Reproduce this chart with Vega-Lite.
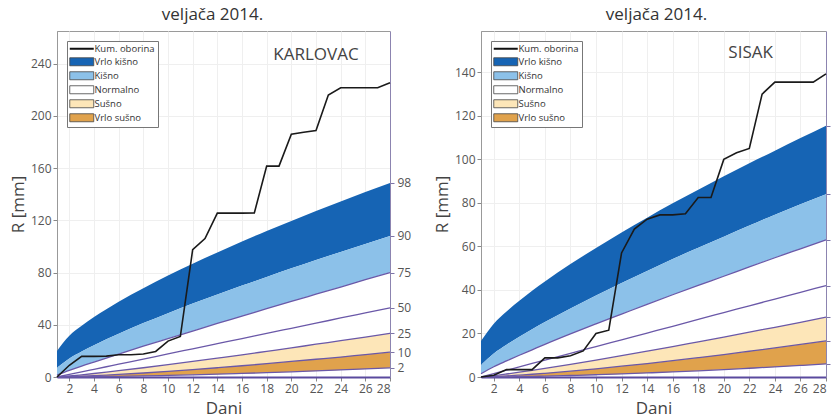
{
  "$schema": "https://vega.github.io/schema/vega-lite/v6.json",
  "background": "white",
  "padding": {"left": 8, "top": 5, "right": 0, "bottom": 0},
  "spacing": 20,
  "datasets": {
    "kperc": [
      {"day": 1, "p2": 0, "p10": 0, "p25": 0, "p50": 0, "p75": 1.5, "p90": 7, "p98": 20},
      {"day": 2, "p2": 0.04, "p10": 0.22, "p25": 0.76, "p50": 1.96, "p75": 5, "p90": 14.2, "p98": 31.6},
      {"day": 3, "p2": 0.11, "p10": 0.57, "p25": 1.68, "p50": 3.93, "p75": 8.3, "p90": 19.6, "p98": 39.2},
      {"day": 4, "p2": 0.21, "p10": 0.98, "p25": 2.67, "p50": 5.89, "p75": 11.4, "p90": 24.4, "p98": 45.9},
      {"day": 5, "p2": 0.33, "p10": 1.45, "p25": 3.72, "p50": 7.85, "p75": 14.5, "p90": 28.9, "p98": 51.9},
      {"day": 6, "p2": 0.47, "p10": 1.96, "p25": 4.81, "p50": 9.81, "p75": 17.6, "p90": 33.2, "p98": 57.6},
      {"day": 8, "p2": 0.81, "p10": 3.07, "p25": 7.08, "p50": 13.7, "p75": 23.6, "p90": 41.3, "p98": 68},
      {"day": 10, "p2": 1.21, "p10": 4.32, "p25": 9.46, "p50": 17.7, "p75": 29.4, "p90": 48.9, "p98": 77.7},
      {"day": 12, "p2": 1.67, "p10": 5.68, "p25": 11.92, "p50": 21.6, "p75": 35.2, "p90": 56.2, "p98": 86.8},
      {"day": 14, "p2": 2.18, "p10": 7.1, "p25": 14.44, "p50": 25.5, "p75": 41, "p90": 63.2, "p98": 95.4},
      {"day": 16, "p2": 2.74, "p10": 8.6, "p25": 17, "p50": 29.4, "p75": 46.6, "p90": 70, "p98": 103.8},
      {"day": 18, "p2": 3.34, "p10": 10.2, "p25": 19.66, "p50": 33.4, "p75": 52.3, "p90": 76.5, "p98": 111.8},
      {"day": 20, "p2": 3.98, "p10": 11.9, "p25": 22.3, "p50": 37.3, "p75": 57.9, "p90": 83.2, "p98": 119.5},
      {"day": 22, "p2": 4.68, "p10": 13.6, "p25": 25.1, "p50": 41.2, "p75": 63.4, "p90": 89.6, "p98": 127.1},
      {"day": 24, "p2": 5.42, "p10": 15.3, "p25": 27.8, "p50": 45.2, "p75": 68.9, "p90": 95.8, "p98": 134.4},
      {"day": 26, "p2": 6.19, "p10": 17.2, "p25": 30.6, "p50": 49.1, "p75": 74.5, "p90": 101.9, "p98": 141.6},
      {"day": 28, "p2": 7, "p10": 19, "p25": 33.5, "p50": 53, "p75": 80, "p90": 108, "p98": 148.6}
    ],
    "sperc": [
      {"day": 1, "p2": 0, "p10": 0, "p25": 0, "p50": 0, "p75": 1.5, "p90": 5.5, "p98": 16.5},
      {"day": 2, "p2": 0.03, "p10": 0.19, "p25": 0.62, "p50": 1.56, "p75": 4.7, "p90": 10.8, "p98": 24.5},
      {"day": 3, "p2": 0.09, "p10": 0.49, "p25": 1.38, "p50": 3.11, "p75": 7.4, "p90": 14.8, "p98": 30.1},
      {"day": 4, "p2": 0.18, "p10": 0.86, "p25": 2.2, "p50": 4.67, "p75": 10, "p90": 18.5, "p98": 35},
      {"day": 5, "p2": 0.28, "p10": 1.26, "p25": 3.06, "p50": 6.22, "p75": 12.5, "p90": 22, "p98": 39.6},
      {"day": 6, "p2": 0.4, "p10": 1.7, "p25": 3.95, "p50": 7.78, "p75": 15, "p90": 25.3, "p98": 43.9},
      {"day": 8, "p2": 0.69, "p10": 2.68, "p25": 5.82, "p50": 10.9, "p75": 19.8, "p90": 31.5, "p98": 51.9},
      {"day": 10, "p2": 1.03, "p10": 3.76, "p25": 7.77, "p50": 14, "p75": 24.4, "p90": 37.5, "p98": 59.3},
      {"day": 12, "p2": 1.43, "p10": 4.95, "p25": 9.79, "p50": 17.1, "p75": 28.9, "p90": 43.2, "p98": 66.4},
      {"day": 14, "p2": 1.87, "p10": 6.19, "p25": 11.86, "p50": 20.2, "p75": 33.4, "p90": 48.7, "p98": 73.2},
      {"day": 16, "p2": 2.35, "p10": 7.51, "p25": 13.97, "p50": 23.3, "p75": 37.8, "p90": 54.2, "p98": 79.8},
      {"day": 18, "p2": 2.86, "p10": 8.89, "p25": 16.15, "p50": 26.5, "p75": 42.1, "p90": 59.4, "p98": 86},
      {"day": 20, "p2": 3.42, "p10": 10.32, "p25": 18.32, "p50": 29.6, "p75": 46.3, "p90": 64.5, "p98": 92.2},
      {"day": 22, "p2": 4.02, "p10": 11.83, "p25": 20.62, "p50": 32.7, "p75": 50.6, "p90": 69.6, "p98": 98.2},
      {"day": 24, "p2": 4.65, "p10": 13.37, "p25": 22.85, "p50": 35.8, "p75": 54.8, "p90": 74.6, "p98": 104},
      {"day": 26, "p2": 5.31, "p10": 14.96, "p25": 25.15, "p50": 38.9, "p75": 58.9, "p90": 79.4, "p98": 109.8},
      {"day": 28, "p2": 6, "p10": 16.6, "p25": 27.5, "p50": 42, "p75": 63, "p90": 84, "p98": 115.5}
    ],
    "kobs": [
      {"day": 1, "r": 0}, {"day": 2, "r": 9}, {"day": 3, "r": 15.8}, {"day": 4, "r": 15.8},
      {"day": 5, "r": 16}, {"day": 6, "r": 17}, {"day": 7, "r": 17}, {"day": 8, "r": 17.6},
      {"day": 9, "r": 19.6}, {"day": 10, "r": 27.5}, {"day": 11, "r": 31}, {"day": 12, "r": 97.5},
      {"day": 13, "r": 106}, {"day": 14, "r": 125.5}, {"day": 15, "r": 125.5}, {"day": 16, "r": 125.5},
      {"day": 17, "r": 125.7}, {"day": 18, "r": 161.5}, {"day": 19, "r": 161.5}, {"day": 20, "r": 186},
      {"day": 21, "r": 187.5}, {"day": 22, "r": 188.7}, {"day": 23, "r": 216}, {"day": 24, "r": 221.5},
      {"day": 25, "r": 221.5}, {"day": 26, "r": 221.5}, {"day": 27, "r": 221.5}, {"day": 28, "r": 225.3}
    ],
    "sobs": [
      {"day": 1, "r": 0}, {"day": 2, "r": 0.8}, {"day": 3, "r": 3.4}, {"day": 4, "r": 3.4},
      {"day": 5, "r": 3.4}, {"day": 6, "r": 8.8}, {"day": 7, "r": 8.8}, {"day": 8, "r": 9.8},
      {"day": 9, "r": 12}, {"day": 10, "r": 20}, {"day": 11, "r": 21.5}, {"day": 12, "r": 57},
      {"day": 13, "r": 68}, {"day": 14, "r": 72.5}, {"day": 15, "r": 74.5}, {"day": 16, "r": 74.5},
      {"day": 17, "r": 75}, {"day": 18, "r": 82.5}, {"day": 19, "r": 82.5}, {"day": 20, "r": 100},
      {"day": 21, "r": 103}, {"day": 22, "r": 105}, {"day": 23, "r": 130}, {"day": 24, "r": 135.5},
      {"day": 25, "r": 135.5}, {"day": 26, "r": 135.5}, {"day": 27, "r": 135.5}, {"day": 28, "r": 139.3}
    ]
  },
  "config": {
    "font": "Open Sans",
    "view": {"stroke": "#9a9a9a", "strokeWidth": 1},
    "axis": {
      "labelFont": "Open Sans", "labelFontSize": 12, "labelColor": "#555",
      "titleFont": "Open Sans", "titleFontSize": 17, "titleFontWeight": "normal", "titleColor": "#444",
      "tickColor": "#888", "domainColor": "#999", "gridColor": "#efefef", "tickSize": 4, "labelPadding": 2
    },
    "title": {"font": "Open Sans", "fontSize": 17, "fontWeight": "normal", "color": "#333"}
  },
  "resolve": {
    "scale": {"color": "independent", "x": "independent", "y": "independent"},
    "legend": {"color": "independent"}
  },
  "hconcat": [
    {
      "width": 333,
      "height": 346,
      "title": {"text": "veljača 2014.", "dx": -11, "offset": 7},
      "resolve": {"axis": {"y": "independent"}},
      "encoding": {
        "x": {
          "field": "day", "type": "quantitative",
          "scale": {"domain": [1, 28], "nice": false},
          "axis": {"values": [2, 4, 6, 8, 10, 12, 14, 16, 18, 20, 22, 24, 26, 28], "title": "Dani", "grid": true, "titlePadding": 6, "domainColor": "#5a4a9e", "domainWidth": 2}
        }
      },
      "layer": [
        {
          "data": {"name": "kperc"},
          "mark": {"type": "area", "interpolate": "monotone"},
          "encoding": {
            "y": {"field": "p98", "type": "quantitative", "scale": {"domain": [0, 265], "nice": false},
                  "axis": {"values": [0, 40, 80, 120, 160, 200, 240], "title": "R [mm]", "grid": true, "titlePadding": 3}},
            "y2": {"field": "p90"},
            "color": {
              "datum": "Vrlo kišno", "type": "nominal",
              "scale": {"domain": ["Kum. oborina", "Vrlo kišno", "Kišno", "Normalno", "Sušno", "Vrlo sušno"],
                        "range": ["#111111", "#1664b4", "#8cc1e9", "#ffffff", "#fde6b8", "#e0a24c"]},
              "legend": {
                "orient": "top-left", "offset": 10, "title": null, "padding": 3,
                "strokeColor": "#777", "fillColor": "white", "labelFontSize": 9.5, "labelFont": "Open Sans",
                "labelColor": "#333", "symbolSize": 100, "rowPadding": 2, "labelOffset": 15,
                "encode": {"symbols": {"update": {
                  "shape": {"signal": "datum.value === 'Kum. oborina' ? 'M-1,0H3.8' : 'M-1,-0.8H3.8V0.8H-1Z'"},
                  "fill": {"signal": "['transparent','#2a78c8','#92ccef','#f7f7f7','#fcdca3','#ef8a3e'][indexof(['Kum. oborina','Vrlo kišno','Kišno','Normalno','Sušno','Vrlo sušno'], datum.value)]"},
                  "stroke": {"signal": "datum.value === 'Kum. oborina' ? '#111' : '#444'"},
                  "strokeWidth": {"signal": "datum.value === 'Kum. oborina' ? 2 : 0.8"},
                  "opacity": {"value": 1}
                }}}
              }
            }
          }
        },
        {
          "data": {"name": "kperc"},
          "mark": {"type": "area", "interpolate": "monotone"},
          "encoding": {
            "y": {"field": "p90", "type": "quantitative", "axis": null},
            "y2": {"field": "p75"},
            "color": {"datum": "Kišno", "type": "nominal"}
          }
        },
        {
          "data": {"name": "kperc"},
          "mark": {"type": "area", "interpolate": "monotone"},
          "encoding": {
            "y": {"field": "p75", "type": "quantitative", "axis": null},
            "y2": {"field": "p25"},
            "color": {"datum": "Normalno", "type": "nominal"}
          }
        },
        {
          "data": {"name": "kperc"},
          "mark": {"type": "area", "interpolate": "monotone"},
          "encoding": {
            "y": {"field": "p25", "type": "quantitative", "axis": null},
            "y2": {"field": "p10"},
            "color": {"datum": "Sušno", "type": "nominal"}
          }
        },
        {
          "data": {"name": "kperc"},
          "mark": {"type": "area", "interpolate": "monotone"},
          "encoding": {
            "y": {"field": "p10", "type": "quantitative", "axis": null},
            "y2": {"field": "p2"},
            "color": {"datum": "Vrlo sušno", "type": "nominal"}
          }
        },
        {
          "data": {"name": "kperc"},
          "transform": [{"fold": ["p75", "p50", "p25", "p10", "p2"], "as": ["pct", "val"]}],
          "mark": {"type": "line", "color": "#6a58a8", "strokeWidth": 1.3, "interpolate": "monotone"},
          "encoding": {
            "y": {"field": "val", "type": "quantitative",
                  "axis": {"orient": "right", "title": null, "grid": false, "values": [148.6, 108, 80, 53, 33.5, 19, 7],
                           "labelExpr": "['98','90','75','50','25','10','2'][indexof([148.6,108,80,53,33.5,19,7], datum.value)]",
                           "domainColor": "#8c84b0", "tickColor": "#7d74a8", "labelPadding": 3}},
            "detail": {"field": "pct"}
          }
        },
        {
          "data": {"name": "kobs"},
          "mark": {"type": "line", "color": "#1a1a1a", "strokeWidth": 1.6},
          "encoding": {
            "y": {"field": "r", "type": "quantitative", "axis": null}
          }
        },
        {
          "data": {"values": [{"day": 22, "r": 247, "name": "KARLOVAC"}]},
          "mark": {"type": "text", "fontSize": 17, "color": "#444", "font": "Open Sans"},
          "encoding": {
            "y": {"field": "r", "type": "quantitative", "axis": null},
            "text": {"field": "name"}
          }
        }
      ]
    },
    {
      "width": 345,
      "height": 346,
      "title": {"text": "veljača 2014.", "dx": 3, "offset": 7},
      "resolve": {"axis": {"y": "independent"}},
      "encoding": {
        "x": {
          "field": "day", "type": "quantitative",
          "scale": {"domain": [1, 28], "nice": false},
          "axis": {"values": [2, 4, 6, 8, 10, 12, 14, 16, 18, 20, 22, 24, 26, 28], "title": "Dani", "grid": true, "titlePadding": 6, "domainColor": "#5a4a9e", "domainWidth": 2}
        }
      },
      "layer": [
        {
          "data": {"name": "sperc"},
          "mark": {"type": "area", "interpolate": "monotone"},
          "encoding": {
            "y": {"field": "p98", "type": "quantitative", "scale": {"domain": [0, 159], "nice": false},
                  "axis": {"values": [0, 20, 40, 60, 80, 100, 120, 140], "title": "R [mm]", "grid": true, "titlePadding": 3}},
            "y2": {"field": "p90"},
            "color": {
              "datum": "Vrlo kišno", "type": "nominal",
              "scale": {"domain": ["Kum. oborina", "Vrlo kišno", "Kišno", "Normalno", "Sušno", "Vrlo sušno"],
                        "range": ["#111111", "#1664b4", "#8cc1e9", "#ffffff", "#fde6b8", "#e0a24c"]},
              "legend": {
                "orient": "top-left", "offset": 10, "title": null, "padding": 3,
                "strokeColor": "#777", "fillColor": "white", "labelFontSize": 9.5, "labelFont": "Open Sans",
                "labelColor": "#333", "symbolSize": 100, "rowPadding": 2, "labelOffset": 15,
                "encode": {"symbols": {"update": {
                  "shape": {"signal": "datum.value === 'Kum. oborina' ? 'M-1,0H3.8' : 'M-1,-0.8H3.8V0.8H-1Z'"},
                  "fill": {"signal": "['transparent','#2a78c8','#92ccef','#f7f7f7','#fcdca3','#ef8a3e'][indexof(['Kum. oborina','Vrlo kišno','Kišno','Normalno','Sušno','Vrlo sušno'], datum.value)]"},
                  "stroke": {"signal": "datum.value === 'Kum. oborina' ? '#111' : '#444'"},
                  "strokeWidth": {"signal": "datum.value === 'Kum. oborina' ? 2 : 0.8"},
                  "opacity": {"value": 1}
                }}}
              }
            }
          }
        },
        {
          "data": {"name": "sperc"},
          "mark": {"type": "area", "interpolate": "monotone"},
          "encoding": {
            "y": {"field": "p90", "type": "quantitative", "axis": null},
            "y2": {"field": "p75"},
            "color": {"datum": "Kišno", "type": "nominal"}
          }
        },
        {
          "data": {"name": "sperc"},
          "mark": {"type": "area", "interpolate": "monotone"},
          "encoding": {
            "y": {"field": "p75", "type": "quantitative", "axis": null},
            "y2": {"field": "p25"},
            "color": {"datum": "Normalno", "type": "nominal"}
          }
        },
        {
          "data": {"name": "sperc"},
          "mark": {"type": "area", "interpolate": "monotone"},
          "encoding": {
            "y": {"field": "p25", "type": "quantitative", "axis": null},
            "y2": {"field": "p10"},
            "color": {"datum": "Sušno", "type": "nominal"}
          }
        },
        {
          "data": {"name": "sperc"},
          "mark": {"type": "area", "interpolate": "monotone"},
          "encoding": {
            "y": {"field": "p10", "type": "quantitative", "axis": null},
            "y2": {"field": "p2"},
            "color": {"datum": "Vrlo sušno", "type": "nominal"}
          }
        },
        {
          "data": {"name": "sperc"},
          "transform": [{"fold": ["p75", "p50", "p25", "p10", "p2"], "as": ["pct", "val"]}],
          "mark": {"type": "line", "color": "#6a58a8", "strokeWidth": 1.3, "interpolate": "monotone"},
          "encoding": {
            "y": {"field": "val", "type": "quantitative",
                  "axis": {"orient": "right", "title": null, "grid": false, "values": [115.5, 84, 63, 42, 27.5, 16.6, 6],
                           "labelExpr": "['98','90','75','50','25','10','2'][indexof([115.5,84,63,42,27.5,16.6,6], datum.value)]",
                           "domainColor": "#8c84b0", "tickColor": "#7d74a8", "labelPadding": 3}},
            "detail": {"field": "pct"}
          }
        },
        {
          "data": {"name": "sobs"},
          "mark": {"type": "line", "color": "#1a1a1a", "strokeWidth": 1.6},
          "encoding": {
            "y": {"field": "r", "type": "quantitative", "axis": null}
          }
        },
        {
          "data": {"values": [{"day": 22.1, "r": 149, "name": "SISAK"}]},
          "mark": {"type": "text", "fontSize": 17, "color": "#444", "font": "Open Sans"},
          "encoding": {
            "y": {"field": "r", "type": "quantitative", "axis": null},
            "text": {"field": "name"}
          }
        }
      ]
    }
  ]
}
